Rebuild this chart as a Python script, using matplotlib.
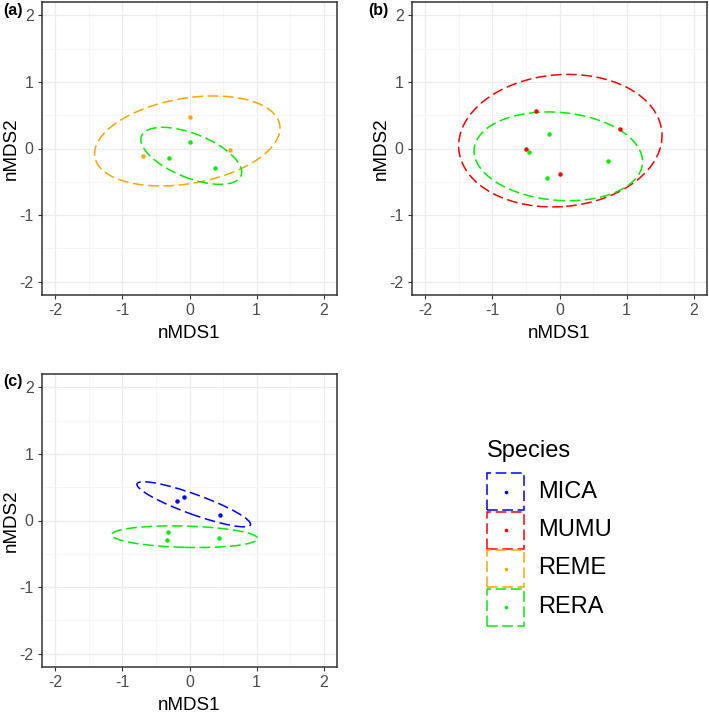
import matplotlib
matplotlib.use("Agg")
import matplotlib.pyplot as plt
from matplotlib.patches import Ellipse, Rectangle
from matplotlib.lines import Line2D
import numpy as np

plt.rcParams['font.family'] = ['Liberation Sans', 'DejaVu Sans']
plt.rcParams['axes.unicode_minus'] = False

species = ["MICA", "MUMU", "REME", "RERA"]
colors = ["#0000FF", "#FF0000", "#FFA500", "#00EE00"]

# panel (a): REME + RERA
a_reme_x = [0.00, -0.70, 0.60]
a_reme_y = [0.48, -0.12, -0.02]
a_rera_x = [0.00, -0.30, 0.38]
a_rera_y = [0.10, -0.14, -0.29]
# panel (b): MUMU + RERA
b_mumu_x = [-0.35, 0.90, -0.50, 0.00]
b_mumu_y = [0.57, 0.29, 0.00, -0.39]
b_rera_x = [-0.15, -0.46, 0.73, -0.19]
b_rera_y = [0.22, -0.06, -0.19, -0.44]
# panel (c): MICA + RERA
c_mica_x = [-0.19, -0.08, 0.46]
c_mica_y = [0.29, 0.35, 0.09]
c_rera_x = [-0.32, -0.34, 0.44]
c_rera_y = [-0.17, -0.30, -0.26]

# ellipse shapes (semi-major, semi-minor, angle in degrees), centred on group mean
a_reme_ell = (1.40, 0.64, 10)
a_rera_ell = (0.80, 0.33, -22)
b_mumu_ell = (1.52, 0.99, 5)
b_rera_ell = (1.26, 0.66, -5)
c_mica_ell = (0.90, 0.15, -20)
c_rera_ell = (1.09, 0.16, -1.5)

W, H = 709, 717
fig = plt.figure(figsize=(W / 100, H / 100), dpi=100)


def fx(x):
    return x / W


def fy(y):
    return 1 - y / H


def panel(left, top, tag, tag_x):
    ax = fig.add_axes([fx(left), fy(top + 293), 295 / W, 293 / H])
    ax.set_xlim(-2.2, 2.2)
    ax.set_ylim(-2.2, 2.2)
    ticks = [-2, -1, 0, 1, 2]
    ax.set_xticks(ticks)
    ax.set_yticks(ticks)
    ax.set_xticklabels([str(t) for t in ticks])
    ax.set_yticklabels([str(t) for t in ticks])
    ax.set_xticks(np.arange(-1.5, 2.0, 1.0), minor=True)
    ax.set_yticks(np.arange(-1.5, 2.0, 1.0), minor=True)
    ax.grid(which='major', color='#EBEBEB', lw=0.9)
    ax.grid(which='minor', color='#F5F5F5', lw=0.6)
    ax.set_axisbelow(True)
    ax.tick_params(which='minor', length=0)
    ax.tick_params(which='major', length=3, width=0.8, color='#333333',
                   labelsize=11.5, labelcolor='#4D4D4D', pad=3)
    for s in ax.spines.values():
        s.set_color('#333333')
        s.set_linewidth(1.1)
    ax.set_xlabel('nMDS1', fontsize=13.5, va='center')
    ax.xaxis.set_label_coords(0.5, -39 / 293)
    ax.set_ylabel('nMDS2', fontsize=13.5, va='center')
    ax.yaxis.set_label_coords(-31 / 295, 0.5)
    fig.text(fx(tag_x), fy(top + 8), tag, fontsize=11.5, fontweight='bold',
             va='center', ha='left')
    return ax


def group(ax, xs, ys, ell, col):
    cx, cy = np.mean(xs), np.mean(ys)
    a, b, ang = ell
    ax.add_patch(Ellipse((cx, cy), 2 * a, 2 * b, angle=ang, fill=False,
                         edgecolor=col, lw=1.1, linestyle=(0, (7, 3))))
    ax.plot(xs, ys, 'o', color=col, ms=3.2, mew=0)


ax_a = panel(42, 2, '(a)', 3)
group(ax_a, a_reme_x, a_reme_y, a_reme_ell, colors[2])
group(ax_a, a_rera_x, a_rera_y, a_rera_ell, colors[3])

ax_b = panel(412, 2, '(b)', 368)
group(ax_b, b_mumu_x, b_mumu_y, b_mumu_ell, colors[1])
group(ax_b, b_rera_x, b_rera_y, b_rera_ell, colors[3])

ax_c = panel(42, 374, '(c)', 3)
group(ax_c, c_mica_x, c_mica_y, c_mica_ell, colors[0])
group(ax_c, c_rera_x, c_rera_y, c_rera_ell, colors[3])

# legend drawn by hand (ggplot-style keys)
fig.text(fx(487), fy(451), 'Species', fontsize=17, va='center', ha='left')
key_top = 473
key = 38.5
for i, (sp, col) in enumerate(zip(species, colors)):
    t = key_top + i * key
    fig.add_artist(Rectangle((fx(487), fy(t + 37)), 37 / W, 37 / H,
                             transform=fig.transFigure, fill=False,
                             edgecolor=col, lw=1.1, linestyle=(0, (7, 3))))
    fig.add_artist(Line2D([fx(505.5)], [fy(t + 18.5)], marker='o', color=col,
                          ms=2.6, mew=0, transform=fig.transFigure))
    fig.text(fx(538), fy(t + 18.5), sp, fontsize=17, va='center', ha='left')

fig.savefig('out.png', dpi=100)
